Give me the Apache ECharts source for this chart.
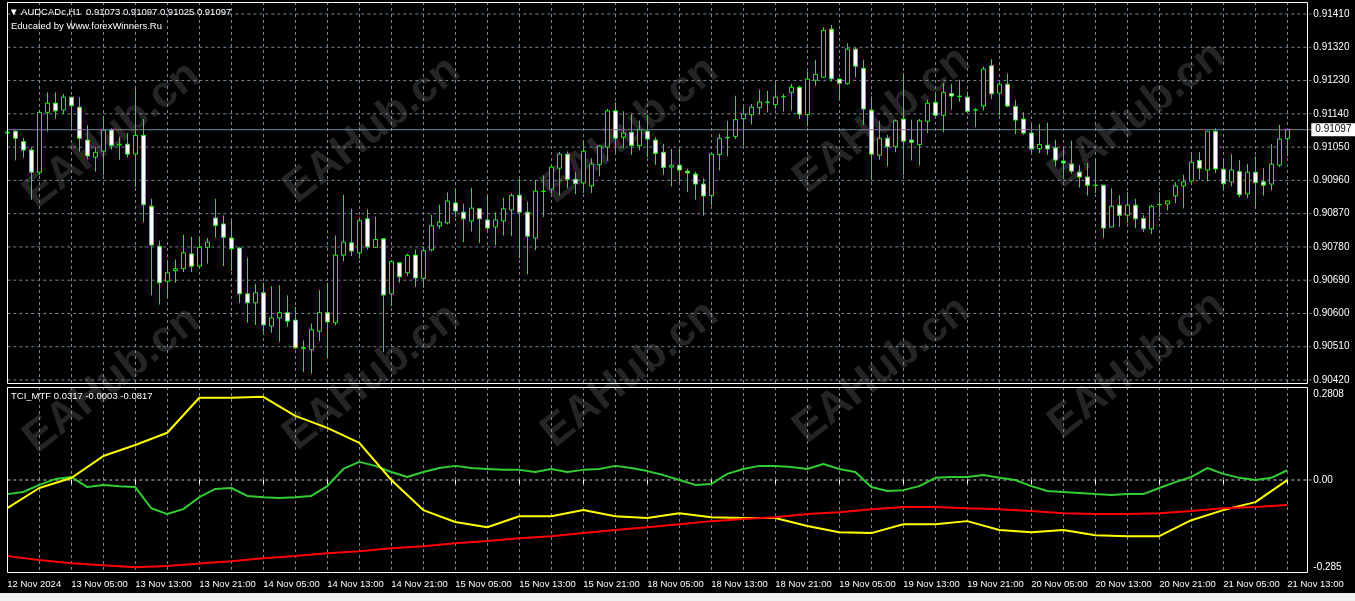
<!DOCTYPE html>
<html><head><meta charset="utf-8">
<script src="https://cdn.jsdelivr.net/npm/echarts@6/dist/echarts.min.js"></script>
<style>html,body{margin:0;padding:0;background:#000;}#c{width:1355px;height:601px;}</style>
</head><body><div id="c"></div>
<script>
const symbolName = 'AUDCADc,H1';
const watermarkText = 'EAHub.cn';
const opens = [0.91088,0.91093,0.91065,0.91042,0.90982,0.91144,0.91169,0.91150,0.91185,0.91158,
0.91069,0.91023,0.91039,0.91096,0.91056,0.91058,0.91031,0.91082,0.90890,0.90782,
0.90687,0.90716,0.90721,0.90761,0.90728,0.90779,0.90858,0.90842,0.90804,0.90777,
0.90653,0.90629,0.90656,0.90566,0.90588,0.90602,0.90582,0.90507,0.90502,0.90552,
0.90602,0.90575,0.90758,0.90791,0.90764,0.90856,0.90779,0.90802,0.90653,0.90737,
0.90710,0.90758,0.90695,0.90772,0.90837,0.90845,0.90899,0.90874,0.90850,0.90883,
0.90853,0.90834,0.90850,0.90880,0.90920,0.90874,0.90804,0.90930,0.90936,0.90993,
0.91031,0.90963,0.90953,0.90945,0.91003,0.91050,0.91148,0.91077,0.91090,0.91054,
0.91093,0.91069,0.91036,0.90996,0.91001,0.90985,0.90977,0.90950,0.90919,0.91030,
0.91075,0.91079,0.91127,0.91138,0.91157,0.91171,0.91165,0.91186,0.91198,0.91212,
0.91138,0.91231,0.91239,0.91369,0.91234,0.91222,0.91315,0.91263,0.91150,0.91028,
0.91074,0.91051,0.91126,0.91069,0.91057,0.91120,0.91171,0.91136,0.91195,0.91188,
0.91185,0.91150,0.91161,0.91270,0.91196,0.91220,0.91160,0.91126,0.91088,0.91046,
0.91055,0.91048,0.91012,0.91004,0.90982,0.90969,0.90947,0.90947,0.90834,0.90892,
0.90866,0.90893,0.90857,0.90829,0.90894,0.90896,0.90918,0.90945,0.90958,0.91014,
0.90988,0.91093,0.90990,0.90956,0.90984,0.90923,0.90982,0.90956,0.90950,0.91001,
0.91073];
const closes = [0.91091,0.91074,0.91042,0.90982,0.91144,0.91169,0.91148,0.91185,0.91162,0.91074,
0.91026,0.91036,0.91096,0.91054,0.91058,0.91031,0.91082,0.90894,0.90785,0.90683,
0.90710,0.90721,0.90764,0.90728,0.90779,0.90793,0.90838,0.90806,0.90775,0.90653,
0.90629,0.90656,0.90569,0.90588,0.90602,0.90579,0.90507,0.90506,0.90556,0.90602,
0.90577,0.90758,0.90793,0.90769,0.90851,0.90780,0.90800,0.90650,0.90740,0.90699,
0.90757,0.90696,0.90770,0.90837,0.90847,0.90904,0.90877,0.90856,0.90885,0.90856,
0.90831,0.90853,0.90883,0.90919,0.90874,0.90809,0.90931,0.90931,0.90996,0.91031,
0.90963,0.90951,0.91039,0.91004,0.91053,0.91148,0.91074,0.91088,0.91054,0.91097,
0.91072,0.91033,0.90995,0.91001,0.90988,0.90980,0.90950,0.90918,0.91031,0.91074,
0.91076,0.91124,0.91139,0.91158,0.91172,0.91172,0.91185,0.91187,0.91212,0.91139,
0.91234,0.91247,0.91366,0.91235,0.91223,0.91315,0.91269,0.91153,0.91031,0.91074,
0.91051,0.91121,0.91066,0.91063,0.91121,0.91169,0.91136,0.91198,0.91188,0.91187,
0.91147,0.91151,0.91261,0.91194,0.91220,0.91161,0.91123,0.91088,0.91045,0.91057,
0.91045,0.91015,0.91007,0.90985,0.90969,0.90947,0.90946,0.90831,0.90890,0.90866,
0.90893,0.90856,0.90829,0.90890,0.90895,0.90904,0.90945,0.90956,0.91009,0.90993,
0.91093,0.90991,0.90951,0.90988,0.90921,0.90982,0.90954,0.90947,0.91004,0.91072,
0.91097];
const highs = [0.91142,0.91097,0.91075,0.91050,0.91151,0.91198,0.91198,0.91194,0.91186,0.91185,
0.91109,0.91050,0.91133,0.91101,0.91077,0.91088,0.91207,0.91126,0.90910,0.90797,
0.90744,0.90746,0.90813,0.90807,0.90807,0.90804,0.90910,0.90865,0.90851,0.90779,
0.90751,0.90680,0.90683,0.90674,0.90676,0.90649,0.90618,0.90527,0.90573,0.90663,
0.90683,0.90811,0.90921,0.90883,0.90860,0.90881,0.90862,0.90804,0.90741,0.90738,
0.90762,0.90773,0.90780,0.90867,0.90894,0.90927,0.90937,0.90897,0.90940,0.90885,
0.90919,0.90874,0.90913,0.90925,0.90964,0.90902,0.90961,0.90973,0.91001,0.91037,
0.91038,0.90982,0.91067,0.91020,0.91056,0.91153,0.91171,0.91147,0.91140,0.91122,
0.91137,0.91077,0.91059,0.91045,0.91045,0.90991,0.90983,0.90965,0.91034,0.91086,
0.91121,0.91189,0.91158,0.91167,0.91205,0.91202,0.91223,0.91194,0.91221,0.91216,
0.91255,0.91286,0.91374,0.91380,0.91235,0.91331,0.91319,0.91286,0.91187,0.91121,
0.91083,0.91124,0.91250,0.91124,0.91126,0.91178,0.91194,0.91223,0.91221,0.91232,
0.91200,0.91155,0.91268,0.91288,0.91225,0.91249,0.91178,0.91144,0.91115,0.91113,
0.91116,0.91070,0.91051,0.91067,0.91001,0.91007,0.91016,0.90948,0.90939,0.90920,
0.90929,0.90910,0.90866,0.90894,0.90928,0.90905,0.90955,0.90975,0.91032,0.91037,
0.91094,0.91101,0.91016,0.91031,0.91015,0.91004,0.91025,0.90993,0.91058,0.91110,
0.91097];
const lows = [0.91065,0.91014,0.91021,0.90908,0.90974,0.91092,0.91127,0.91140,0.91103,0.91038,
0.91017,0.90984,0.90974,0.91043,0.91016,0.91022,0.90942,0.90847,0.90649,0.90624,
0.90644,0.90683,0.90712,0.90712,0.90723,0.90735,0.90805,0.90728,0.90715,0.90628,
0.90575,0.90569,0.90550,0.90548,0.90523,0.90564,0.90505,0.90442,0.90437,0.90525,
0.90482,0.90568,0.90741,0.90755,0.90748,0.90773,0.90778,0.90496,0.90620,0.90683,
0.90701,0.90672,0.90669,0.90768,0.90829,0.90841,0.90861,0.90793,0.90822,0.90791,
0.90825,0.90784,0.90811,0.90809,0.90749,0.90706,0.90771,0.90861,0.90925,0.90919,
0.90939,0.90923,0.90926,0.90926,0.90971,0.91013,0.91036,0.91047,0.91029,0.91041,
0.91023,0.91002,0.90975,0.90944,0.90955,0.90928,0.90908,0.90865,0.90892,0.90987,
0.91025,0.91072,0.91054,0.91111,0.91138,0.91144,0.91153,0.91146,0.91149,0.91126,
0.91106,0.91216,0.91238,0.91227,0.91180,0.91219,0.91239,0.91110,0.90962,0.91016,
0.90998,0.91036,0.90974,0.91014,0.91000,0.91088,0.91133,0.91090,0.91151,0.91173,
0.91142,0.91104,0.91149,0.91180,0.91136,0.91158,0.91085,0.91083,0.91036,0.91034,
0.91029,0.90998,0.90969,0.90978,0.90941,0.90919,0.90926,0.90804,0.90833,0.90834,
0.90845,0.90831,0.90820,0.90815,0.90861,0.90879,0.90898,0.90884,0.90956,0.90962,
0.90957,0.90980,0.90939,0.90944,0.90914,0.90912,0.90890,0.90919,0.90933,0.90996,
0.91025];
const priceTicks = [0.90420,0.90510,0.90600,0.90690,0.90780,0.90870,0.90960,0.91050,0.91140,0.91230,0.91320,0.91410];
const timeLabels = ['12 Nov 2024','13 Nov 05:00','13 Nov 13:00','13 Nov 21:00','14 Nov 05:00','14 Nov 13:00','14 Nov 21:00',
'15 Nov 05:00','15 Nov 13:00','15 Nov 21:00','18 Nov 05:00','18 Nov 13:00','18 Nov 21:00','19 Nov 05:00','19 Nov 13:00',
'19 Nov 21:00','20 Nov 05:00','20 Nov 13:00','20 Nov 21:00','21 Nov 05:00','21 Nov 13:00'];
// TCI_MTF buffers: green (every 2 bars), yellow and red (every 4 bars, H4 steps)
const tciGreen = [-0.046,-0.039,-0.016,0.003,0.010,-0.023,-0.016,-0.020,-0.023,-0.092,
-0.111,-0.095,-0.056,-0.029,-0.026,-0.052,-0.056,-0.059,-0.056,-0.052,
-0.020,0.036,0.059,0.046,0.026,0.010,0.026,0.039,0.046,0.039,
0.036,0.033,0.033,0.026,0.036,0.026,0.033,0.036,0.046,0.039,
0.029,0.016,0.000,-0.016,-0.013,0.020,0.036,0.046,0.046,0.042,
0.036,0.052,0.036,0.026,-0.023,-0.036,-0.033,-0.020,0.007,0.010,
0.010,0.016,0.007,0.000,-0.020,-0.036,-0.039,-0.042,-0.046,-0.049,
-0.046,-0.046,-0.026,-0.007,0.010,0.039,0.020,0.007,0.000,0.007,
0.0317];
const tciYellow = [-0.0915,-0.026,0.0065,0.078,0.114,0.154,0.268,0.268,0.271,0.209,
0.170,0.121,0.000,-0.098,-0.137,-0.154,-0.118,-0.118,-0.098,-0.118,
-0.124,-0.108,-0.121,-0.124,-0.124,-0.150,-0.170,-0.173,-0.144,-0.144,
-0.134,-0.163,-0.170,-0.163,-0.180,-0.183,-0.183,-0.131,-0.098,-0.072,
-0.0003];
const tciRed = [-0.248,-0.261,-0.271,-0.278,-0.284,-0.280,-0.272,-0.265,-0.255,-0.248,
-0.239,-0.232,-0.222,-0.216,-0.206,-0.199,-0.190,-0.183,-0.173,-0.163,
-0.154,-0.144,-0.134,-0.127,-0.121,-0.111,-0.105,-0.095,-0.088,-0.088,
-0.092,-0.095,-0.101,-0.108,-0.111,-0.111,-0.108,-0.101,-0.092,-0.088,
-0.0817];
const tciTicks = [0.2808, 0, -0.285];
const tciTickLabels = ['0.2808', '0.00', '-0.285'];

const N = opens.length;
const SLOTS = N + 3; // chart shift on the right
const cats = Array.from({length: SLOTS}, (_, i) => String(i));
const candleData = opens.map((o, i) => [o, closes[i], lows[i], highs[i]]);
const last = N - 1;
const gridColor = '#778899';
const dash = [3, 3];
const font = 'Liberation Sans, Arial, sans-serif';

const wm = [];
[[112,135],[372,130],[630,130],[882,120],[1137,115],[112,380],[372,377],[630,374],[882,370],[1137,365]].forEach(p => {
  wm.push({type:'text', x:p[0], y:p[1], rotation: 38*Math.PI/180, z:0, silent:true,
    style:{text: watermarkText, font:'bold 44px Arial, Liberation Sans, sans-serif', fill:'#252525', align:'center', verticalAlign:'middle'}});
});

// horizontal price grid lines, drawn through the price axis
const hLines = priceTicks.map(v => ({
  type: 'line', xAxisIndex: 0, yAxisIndex: 0, data: [[0, v], [SLOTS - 1, v]], symbol: 'none', silent: true, z: 1,
  lineStyle: {color: gridColor, type: dash, width: 1}, emphasis: {disabled: true}
}));

const chart = echarts.init(document.getElementById('c'));
chart.setOption({
  backgroundColor: '#000',
  animation: false,
  textStyle: {fontFamily: font},
  title: [
    {text: '\u25BC ' + symbolName + '  ' + [opens[last], highs[last], lows[last], closes[last]].map(v => v.toFixed(5)).join(' '),
     left: 9, top: 7, padding: 0, textStyle: {color: '#fff', fontSize: 9.5, fontWeight: 'normal', fontFamily: font}},
    {text: 'Educated by Www.forexWinners.Ru', left: 11, top: 21, padding: 0,
     textStyle: {color: '#fff', fontSize: 9.5, fontWeight: 'normal', fontFamily: font}},
    {text: 'TCI_MTF ' + [tciGreen[tciGreen.length-1].toFixed(4), tciYellow[tciYellow.length-1].toFixed(4), tciRed[tciRed.length-1].toFixed(4)].join(' '),
     left: 11, top: 391, padding: 0, textStyle: {color: '#fff', fontSize: 9.5, fontWeight: 'normal', fontFamily: font}}
  ],
  grid: [
    {left: 7.3, top: 2, width: 8 * (SLOTS - 1), height: 382},
    {left: 7.3, top: 387, width: 8 * (SLOTS - 1), height: 186}
  ],
  xAxis: [
    {type: 'category', gridIndex: 0, data: cats, boundaryGap: false,
     axisLine: {show: false}, axisTick: {show: false}, axisLabel: {show: false},
     splitLine: {show: true, interval: 3, lineStyle: {color: gridColor, type: dash, width: 1}}},
    {type: 'category', gridIndex: 1, data: cats, boundaryGap: false,
     axisLine: {show: false},
     axisTick: {show: true, interval: 7, length: 4, lineStyle: {color: '#fff'}},
     axisLabel: {show: true, interval: 7, align: 'left', color: '#fff', fontSize: 9.5, margin: 6, fontFamily: font,
       formatter: (v, idx) => (idx % 8 === 0 && timeLabels[idx / 8]) ? timeLabels[idx / 8] : ''},
     splitLine: {show: true, interval: 3, lineStyle: {color: gridColor, type: dash, width: 1}}}
  ],
  yAxis: [
    {type: 'value', gridIndex: 0, position: 'right', min: 0.904092, max: 0.914425,
     axisLine: {show: false}, axisTick: {show: false}, splitLine: {show: false},
     axisLabel: {customValues: priceTicks, formatter: v => v.toFixed(5), color: '#fff', fontSize: 10, margin: 2, fontFamily: font}},
    {type: 'value', gridIndex: 1, position: 'right', min: -0.303, max: 0.303,
     axisLine: {show: false}, axisTick: {show: false}, splitLine: {show: false},
     axisLabel: {customValues: tciTicks, color: '#fff', fontSize: 10, margin: 2, fontFamily: font,
       formatter: v => { const k = tciTicks.findIndex(t => Math.abs(t - v) < 1e-6); return k >= 0 ? tciTickLabels[k] : ''; }}}
  ],
  graphic: wm.concat([
    {type: 'rect', z: 100, silent: true, shape: {x: 7.5, y: 2.5, width: 1300, height: 381}, style: {fill: null, stroke: '#fff', lineWidth: 1}},
    {type: 'rect', z: 100, silent: true, shape: {x: 7.5, y: 387.5, width: 1300, height: 185}, style: {fill: null, stroke: '#fff', lineWidth: 1}},
    {type: 'rect', z: 100, silent: true, shape: {x: 0, y: 593, width: 1355, height: 8}, style: {fill: '#f0f0f0'}}
  ]),
  series: hLines.concat([
    {type: 'candlestick', name: symbolName, xAxisIndex: 0, yAxisIndex: 0, data: candleData, barWidth: 5, z: 3,
     itemStyle: {color: '#000', color0: '#fff', borderColor: '#00ff00', borderColor0: '#00ff00', borderWidth: 1}},
    {type: 'line', name: 'bid', xAxisIndex: 0, yAxisIndex: 0, data: [[0, closes[last]], [SLOTS - 1, closes[last]]],
     symbol: 'none', silent: true, z: 4, lineStyle: {color: gridColor, type: 'solid', width: 1},
     endLabel: {show: true, distance: 0, formatter: () => closes[last].toFixed(5), backgroundColor: '#fff',
       color: '#000', fontSize: 10, padding: [2, 4, 1, 4], fontFamily: font}},
    {type: 'line', name: 'zero', xAxisIndex: 1, yAxisIndex: 1, data: [[0, 0], [SLOTS - 1, 0]], z: 1, silent: true, symbol: 'none',
     lineStyle: {color: '#d0d0d0', type: dash, width: 1}},
    {type: 'line', name: 'green', xAxisIndex: 1, yAxisIndex: 1, data: tciGreen.map((v, m) => [m * 2, v]),
     symbol: 'none', z: 3, lineStyle: {color: '#32cd32', width: 2}},
    {type: 'line', name: 'yellow', xAxisIndex: 1, yAxisIndex: 1, data: tciYellow.map((v, k) => [k * 4, v]),
     symbol: 'none', z: 4, lineStyle: {color: '#ffff00', width: 2}},
    {type: 'line', name: 'red', xAxisIndex: 1, yAxisIndex: 1, data: tciRed.map((v, k) => [k * 4, v]),
     symbol: 'none', z: 5, lineStyle: {color: '#ff0000', width: 2}}
  ])
});
</script></body></html>
